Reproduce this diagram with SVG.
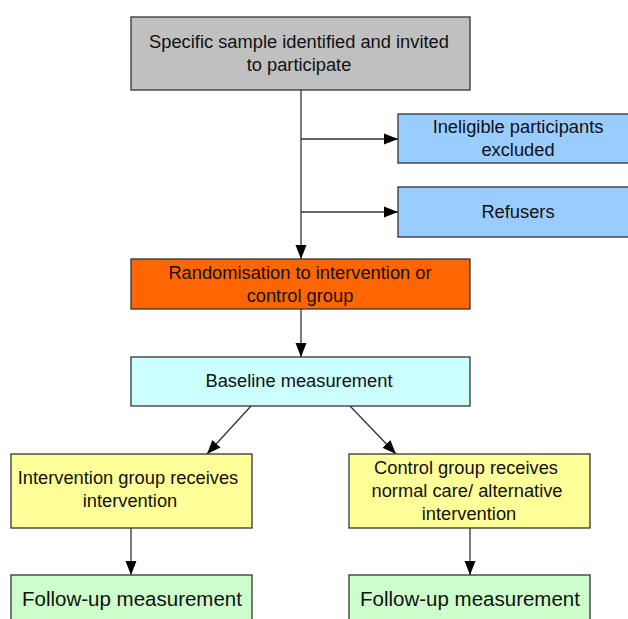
<svg xmlns="http://www.w3.org/2000/svg" width="628" height="619" viewBox="0 0 628 619">
<defs>
<marker id="ah" markerWidth="14" markerHeight="12" viewBox="0 0 14 12" refX="14" refY="6" orient="auto" markerUnits="userSpaceOnUse">
<path d="M0,0.5 L14,6 L0,11.5 Z" fill="#000"/>
</marker>
<style>
.box{stroke:#333;stroke-width:1.3}
.t{font-family:"Liberation Sans",Arial,sans-serif;font-size:18.3px;fill:#111;text-anchor:middle}
.c{stroke:#333;stroke-width:1.3;fill:none}
.a{marker-end:url(#ah)}
</style>
</defs>
<rect width="628" height="619" fill="#fff"/>
<g id="connectors">
<line class="c a" x1="301" y1="90" x2="301" y2="259"/>
<line class="c a" x1="301" y1="139" x2="398" y2="139"/>
<line class="c a" x1="301" y1="212" x2="398" y2="212"/>
<line class="c a" x1="301" y1="309" x2="301" y2="357"/>
<line class="c a" x1="251" y1="406" x2="207" y2="454"/>
<line class="c a" x1="350" y1="406" x2="396" y2="454"/>
<line class="c a" x1="131" y1="528" x2="131" y2="575"/>
<line class="c a" x1="470" y1="528" x2="470" y2="575"/>
</g>
<g id="sample">
<rect class="box" x="131" y="17" width="339" height="73" fill="#C0C0C0"/>
<text class="t" x="299" y="48">Specific sample identified and invited</text>
<text class="t" x="299" y="71">to participate</text>
</g>
<g id="ineligible">
<rect class="box" x="398" y="114" width="240" height="49" fill="#99CCFF"/>
<text class="t" x="518" y="133">Ineligible participants</text>
<text class="t" x="518" y="156">excluded</text>
</g>
<g id="refusers">
<rect class="box" x="398" y="187" width="240" height="50" fill="#99CCFF"/>
<text class="t" x="518" y="218">Refusers</text>
</g>
<g id="randomisation">
<rect class="box" x="131" y="259" width="339" height="50" fill="#FF6600"/>
<text class="t" x="300" y="279">Randomisation to intervention or</text>
<text class="t" x="300" y="302">control group</text>
</g>
<g id="baseline">
<rect class="box" x="131" y="357" width="339" height="49" fill="#CCFFFF"/>
<text class="t" x="299" y="387">Baseline measurement</text>
</g>
<g id="intervention">
<rect class="box" x="11" y="454" width="241" height="74" fill="#FFFF99"/>
<text class="t" x="128" y="484">Intervention group receives</text>
<text class="t" x="130" y="507">intervention</text>
</g>
<g id="control">
<rect class="box" x="349" y="454" width="241" height="74" fill="#FFFF99"/>
<text class="t" x="466" y="474">Control group receives</text>
<text class="t" x="467" y="497">normal care/ alternative</text>
<text class="t" x="469" y="520">intervention</text>
</g>
<g id="followup1">
<rect class="box" x="11" y="575" width="241" height="60" fill="#CCFFCC"/>
<text class="t" x="132" y="606" style="font-size:20.5px">Follow-up measurement</text>
</g>
<g id="followup2">
<rect class="box" x="349" y="575" width="241" height="60" fill="#CCFFCC"/>
<text class="t" x="470" y="606" style="font-size:20.5px">Follow-up measurement</text>
</g>
</svg>
